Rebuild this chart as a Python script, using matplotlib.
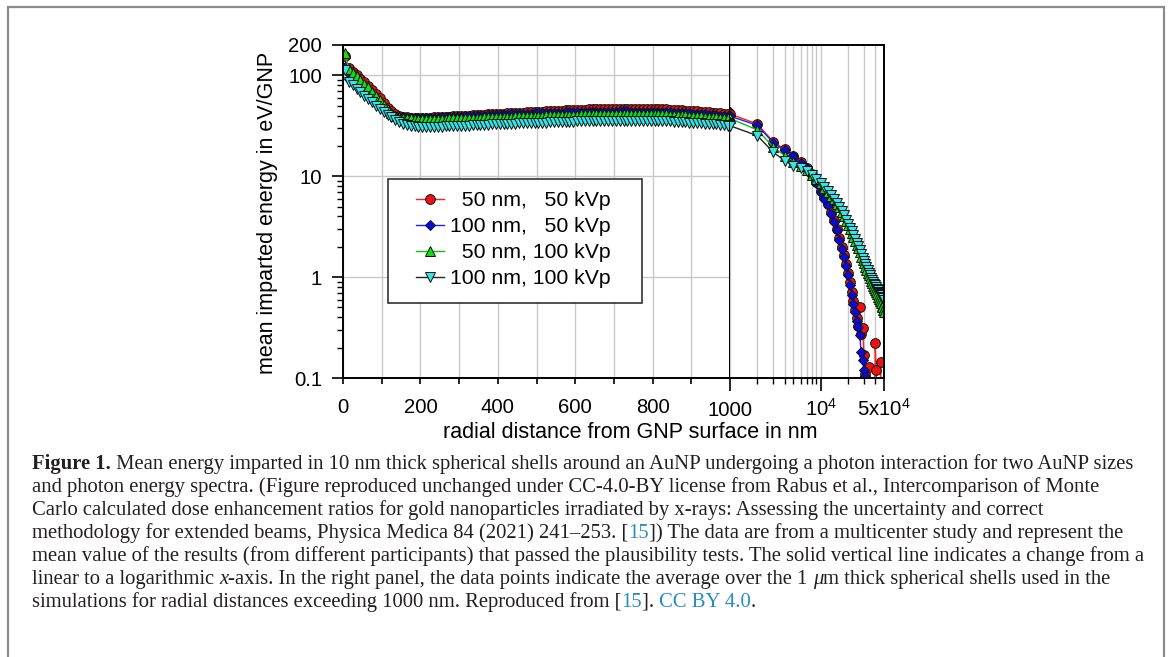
import numpy as np
import matplotlib
matplotlib.use("Agg")
import matplotlib.pyplot as plt
import matplotlib.transforms as mtransforms
from matplotlib.patches import Rectangle

plt.rcParams["font.family"] = ["Liberation Sans", "DejaVu Sans"]
plt.rcParams["mathtext.fontset"] = "custom"
plt.rcParams["mathtext.rm"] = "Liberation Sans"

W, H = 1168, 657

# radial distance from GNP surface (nm): 10 nm shells up to 1 um, 1 um shells beyond
r_lin = np.arange(5, 1000, 10)
r_log = np.arange(2000, 50001, 1000)

# mean imparted energy (eV/GNP), 10 nm shells
e50_50_lin = [155, 118, 108, 100, 92, 85, 78, 71, 65, 59,
              53, 48, 44, 41.5, 40, 39, 38.5, 38.2, 38.1, 38.0,
              38.0, 38.1, 38.2, 38.3, 38.5, 38.6, 38.8, 39.0, 39.2, 39.4,
              39.6, 39.8, 40.0, 40.2, 40.4, 40.6, 40.8, 41.0, 41.2, 41.4,
              41.6, 41.8, 42.0, 42.2, 42.4, 42.6, 42.8, 43.0, 43.2, 43.4,
              43.6, 43.8, 44.0, 44.2, 44.4, 44.6, 44.8, 45.0, 45.2, 45.4,
              45.5, 45.6, 45.8, 45.9, 46.0, 46.1, 46.2, 46.3, 46.4, 46.5,
              46.6, 46.7, 46.7, 46.8, 46.8, 46.8, 46.8, 46.7, 46.7, 46.6,
              46.5, 46.3, 46.2, 46.0, 45.8, 45.6, 45.4, 45.1, 44.8, 44.5,
              44.2, 43.9, 43.6, 43.3, 43.0, 42.7, 42.4, 42.1, 41.8, 41.5]
e100_50_lin = [122, 92, 85, 79, 73, 67, 62, 57.5, 53.5, 49.5,
               46, 43.5, 41.5, 40, 39, 38.4, 38.0, 37.8, 37.7, 37.7,
               37.8, 37.9, 38.0, 38.1, 38.2, 38.3, 38.4, 38.6, 38.7, 38.9,
               39.0, 39.2, 39.3, 39.5, 39.6, 39.8, 39.9, 40.1, 40.2, 40.4,
               40.5, 40.7, 40.8, 41.0, 41.1, 41.3, 41.4, 41.6, 41.7, 41.9,
               42.0, 42.1, 42.3, 42.4, 42.5, 42.6, 42.8, 42.9, 43.0, 43.1,
               43.2, 43.3, 43.4, 43.5, 43.5, 43.6, 43.7, 43.7, 43.8, 43.8,
               43.8, 43.9, 43.9, 43.9, 43.8, 43.8, 43.8, 43.7, 43.7, 43.6,
               43.5, 43.4, 43.3, 43.1, 43.0, 42.8, 42.6, 42.4, 42.2, 42.0,
               41.8, 41.5, 41.3, 41.0, 40.8, 40.5, 40.3, 40.0, 39.8, 39.5]
e50_100_lin = [165, 115, 105, 98, 90, 83, 76, 68.5, 62.5, 56.5,
               50.5, 46, 42.5, 40, 38.8, 38, 37.6, 37.4, 37.3, 37.2,
               37.1, 37.1, 37.1, 37.2, 37.2, 37.3, 37.3, 37.4, 37.5, 37.6,
               37.7, 37.8, 37.9, 38.0, 38.1, 38.2, 38.3, 38.4, 38.6, 38.7,
               38.8, 38.9, 39.0, 39.1, 39.2, 39.4, 39.5, 39.6, 39.7, 39.8,
               39.9, 40.0, 40.1, 40.2, 40.3, 40.4, 40.5, 40.6, 40.7, 40.8,
               40.9, 41.0, 41.1, 41.2, 41.3, 41.4, 41.5, 41.6, 41.6, 41.7,
               41.8, 41.8, 41.8, 41.8, 41.8, 41.7, 41.7, 41.6, 41.6, 41.5,
               41.4, 41.3, 41.1, 41.0, 40.8, 40.7, 40.5, 40.3, 40.2, 40.0,
               39.8, 39.6, 39.3, 39.1, 38.8, 38.6, 38.3, 38.1, 37.8, 37.5]
e100_100_lin = [113, 86, 80, 74, 68, 63, 58.5, 54, 50, 46.5,
                43, 40.5, 38.3, 36.3, 34.5, 33.2, 32.3, 31.6, 31.2, 31.0,
                31.0, 31.0, 31.0, 31.0, 31.1, 31.1, 31.2, 31.3, 31.4, 31.5,
                31.6, 31.7, 31.8, 32.0, 32.1, 32.2, 32.3, 32.5, 32.6, 32.7,
                32.9, 33.0, 33.1, 33.2, 33.3, 33.4, 33.5, 33.6, 33.7, 33.8,
                33.9, 34.0, 34.1, 34.2, 34.3, 34.4, 34.5, 34.6, 34.7, 34.8,
                34.9, 35.0, 35.1, 35.2, 35.3, 35.4, 35.4, 35.5, 35.5, 35.6,
                35.6, 35.6, 35.6, 35.6, 35.6, 35.5, 35.5, 35.5, 35.4, 35.4,
                35.3, 35.2, 35.1, 35.0, 34.9, 34.8, 34.6, 34.5, 34.3, 34.1,
                33.9, 33.7, 33.5, 33.3, 33.1, 32.9, 32.6, 32.3, 32.0, 31.7]

# 1 um shells (values below 0.1 fall off the axis)
nan = np.nan
e50_50_log = [33, 22, 18.5, 16, 13.8, 12.2, 10.5, 8.8, 7.2, 6.2,
              5.3, 4.4, 3.65, 3.0, 2.45, 2.0, 1.65, 1.35, 1.1, 0.9,
              0.72, 0.58, 0.47, 0.39, 0.33, 0.50, 0.27, 0.31, 0.17, 0.11,
              0.02, 0.02, 0.128, 0.02, 0.02, 0.02, 0.02, 0.02, 0.22, 0.12,
              0.02, 0.02, 0.02, 0.02, 0.144, 0.02, 0.02, 0.02, 0.02]
e100_50_log = [32, 21.5, 18, 15.7, 13.5, 12.0, 10.3, 8.6, 6.95, 5.97,
               5.13, 4.24, 3.5, 2.9, 2.31, 1.91, 1.58, 1.28, 1.04, 0.83,
               0.66, 0.545, 0.45, 0.37, 0.32, 0.265, 0.18, 0.15, 0.12, 0.105,
               0.03, nan, nan, nan, nan, nan, nan, nan, nan, nan,
               nan, nan, nan, nan, nan, nan, nan, nan, nan]
e50_100_log = [28.8, 19.5, 16, 14, 12.6, 11.5, 10.4, 9.4, 8.5, 7.7,
               7.0, 6.4, 5.9, 5.3, 4.9, 4.4, 4.0, 3.6, 3.3, 3.0,
               2.75, 2.5, 2.3, 2.1, 1.93, 1.77, 1.6, 1.47, 1.37, 1.27,
               1.18, 1.1, 1.04, 0.97, 0.92, 0.87, 0.82, 0.78, 0.75, 0.71,
               0.68, 0.64, 0.61, 0.58, 0.55, 0.52, 0.5, 0.47, 0.45]
e100_100_log = [25.3, 17.3, 14.3, 12.7, 12.0, 11.2, 10.3, 9.4, 8.6, 7.8,
                7.1, 6.5, 6.0, 5.4, 5.0, 4.5, 4.1, 3.7, 3.4, 3.1,
                2.85, 2.6, 2.4, 2.2, 2.02, 1.85, 1.68, 1.55, 1.44, 1.34,
                1.25, 1.17, 1.1, 1.04, 0.99, 0.94, 0.9, 0.86, 0.83, 0.8,
                0.77, 0.75, 0.72, 0.7, 0.68, 0.66, 0.64, 0.62, 0.6]

labels = ["  50 nm,   50 kVp", "100 nm,   50 kVp", "  50 nm, 100 kVp", "100 nm, 100 kVp"]
series = [(e50_50_lin, e50_50_log), (e100_50_lin, e100_50_log),
          (e50_100_lin, e50_100_log), (e100_100_lin, e100_100_log)]
styles = [dict(marker="o", mfc="#ee1111", color="#ff2020", ms=7),
          dict(marker="D", mfc="#0a0ae0", color="#2020ff", ms=5.6),
          dict(marker="^", mfc="#11dd11", color="#10c010", ms=7.2),
          dict(marker="v", mfc="#33e6e6", color="#222222", ms=7.2)]

fig = plt.figure(figsize=(W / 100, H / 100), dpi=100)

# axes placed in pixel units of the reference
x0, x1, x2 = 343, 730, 884
ytop, ybot = 45, 378
ax_lin = fig.add_axes([x0 / W, 1 - ybot / H, (x1 - x0) / W, (ybot - ytop) / H])
ax_log = fig.add_axes([x1 / W, 1 - ybot / H, (x2 - x1) / W, (ybot - ytop) / H])

r_all = np.concatenate([r_lin, r_log])
handles = []
for (lin, lg), st, lab in zip(series, styles, labels):
    y_all = np.concatenate([lin, lg])
    for ax in (ax_lin, ax_log):
        h, = ax.plot(r_all, y_all, lw=1.0, mec="#111111", mew=0.7, label=lab, **st)
    handles.append(h)

grid_kw = dict(color="#c8c8c8", lw=1.0)
for ax in (ax_lin, ax_log):
    ax.set_yscale("log")
    ax.set_ylim(0.1, 200)
    ax.grid(True, axis="y", which="major", **grid_kw)
    ax.grid(True, axis="x", which="both", **grid_kw)
    ax.set_axisbelow(True)
    for s in ax.spines.values():
        s.set_linewidth(1.4)
        s.set_color("black")

tick_size = 14.6
ax_lin.set_xlim(0, 1000)
ax_lin.set_xticks([0, 200, 400, 600, 800])
ax_lin.set_xticklabels(["0", "200", "400", "600", "800"])
ax_lin.set_xticks([100, 300, 500, 700, 900], minor=True)
ax_lin.set_yticks([0.1, 1, 10, 100, 200])
ax_lin.set_yticklabels(["0.1", "1", "10", "100", "200"])
minor_y = [m * d for d in (0.1, 1, 10) for m in range(2, 10)]
ax_lin.set_yticks(minor_y, minor=True)
ax_lin.yaxis.set_minor_formatter(plt.NullFormatter())
ax_lin.tick_params(axis="y", which="major", direction="out", length=8, width=1.2,
                   pad=7, labelsize=tick_size)
ax_lin.tick_params(axis="y", which="minor", direction="out", length=4.3, width=1.0)
ax_lin.tick_params(axis="x", which="both", direction="out", length=4.3, width=1.2,
                   pad=10, labelsize=tick_size)

ax_log.set_xscale("log")
ax_log.set_xlim(1000, 50000)
ax_log.spines["left"].set_visible(False)
ax_log.set_xticks([1000, 10000, 50000])
ax_log.set_xticklabels([])
ax_log.set_xticks([2000, 3000, 4000, 5000, 6000, 7000, 8000, 9000,
                   20000, 30000, 40000], minor=True)
ax_log.xaxis.set_minor_formatter(plt.NullFormatter())
ax_log.set_yticks([])
ax_log.set_yticks([], minor=True)
ax_log.tick_params(axis="x", which="major", direction="out", length=9.4, width=1.2)
ax_log.tick_params(axis="x", which="minor", direction="out", length=4.3, width=1.0)

trans = mtransforms.blended_transform_factory(ax_log.transData, fig.transFigure)
for xv, txt in [(1000, "1000"), (10000, r"$\mathregular{10^4}$"),
                (50000, r"$\mathregular{5x10^4}$")]:
    fig.text(xv, 1 - 416 / H, txt, transform=trans, ha="center", va="baseline",
             fontsize=tick_size)

label_size = 15.5
fig.text(268 / W, 1 - 213 / H, "mean imparted energy in eV/GNP", rotation=90,
         ha="center", va="center", fontsize=label_size)
fig.text(630 / W, 1 - 432 / H, "radial distance from GNP surface in nm",
         ha="center", va="center", fontsize=label_size)

# legend: box drawn at its reference position, entries placed inside
legend_box = Rectangle((388 / W, 1 - 303 / H), (642 - 388) / W, (303 - 179) / H,
                       transform=fig.transFigure, facecolor="white",
                       edgecolor="#333333", lw=1.2, zorder=4)
fig.patches.append(legend_box)
leg = fig.legend(handles=handles, loc="upper left",
                 bbox_to_anchor=(416 / W, 1 - 191 / H), borderaxespad=0,
                 borderpad=0, fontsize=15.3, frameon=False, labelspacing=0.33,
                 handlelength=1.3, handletextpad=0.3)
leg.set_zorder(5)

# outer frame (open at the bottom)
fig.patches.append(Rectangle((8 / W, -0.1), (1164 - 8) / W, 1 - 7 / H + 0.1,
                             transform=fig.transFigure, fill=False,
                             edgecolor="#8c8c8c", lw=1.6, clip_on=False))

# caption with mixed styles
cap_size = 14.9
blue = "#2a8cc4"
ink = "#231f20"
caption = [
    [("Figure 1.", "bold"), (" Mean energy imparted in 10 nm thick spherical shells around an AuNP undergoing a photon interaction for two AuNP sizes", "n")],
    [("and photon energy spectra. (Figure reproduced unchanged under CC-4.0-BY license from Rabus et al., Intercomparison of Monte", "n")],
    [("Carlo calculated dose enhancement ratios for gold nanoparticles irradiated by x-rays: Assessing the uncertainty and correct", "n")],
    [("methodology for extended beams, Physica Medica 84 (2021) 241\u2013253. [", "n"), ("15", "link"),
     ("]) The data are from a multicenter study and represent the", "n")],
    [("mean value of the results (from different participants) that passed the plausibility tests. The solid vertical line indicates a change from a", "n")],
    [("linear to a logarithmic ", "n"), ("x", "it"), ("-axis. In the right panel, the data points indicate the average over the 1 ", "n"),
     ("\u03bc", "it"), ("m thick spherical shells used in the", "n")],
    [("simulations for radial distances exceeding 1000 nm. Reproduced from [", "n"), ("15", "link"), ("]. ", "n"),
     ("CC BY 4.0", "link"), (".", "n")],
]


def style_kw(kind):
    kw = dict(family="Liberation Serif", fontsize=cap_size, color=ink)
    if kind == "bold":
        kw["fontweight"] = "bold"
    elif kind == "it":
        kw["fontstyle"] = "italic"
    elif kind == "link":
        kw["color"] = blue
    return kw


renderer = fig.canvas.get_renderer()


def text_width(s, kw):
    t = fig.text(0, 0, "|" + s + "|", **kw)
    w = t.get_window_extent(renderer).width
    t.remove()
    t = fig.text(0, 0, "||", **kw)
    w -= t.get_window_extent(renderer).width
    t.remove()
    return w


base0, lead = 469, 23
for i, line in enumerate(caption):
    xpix = 32
    ypix = base0 + i * lead
    for s, kind in line:
        kw = style_kw(kind)
        fig.text(xpix / W, 1 - ypix / H, s, ha="left", va="baseline", **kw)
        xpix += text_width(s, kw)

fig.savefig("out.png", dpi=100)
